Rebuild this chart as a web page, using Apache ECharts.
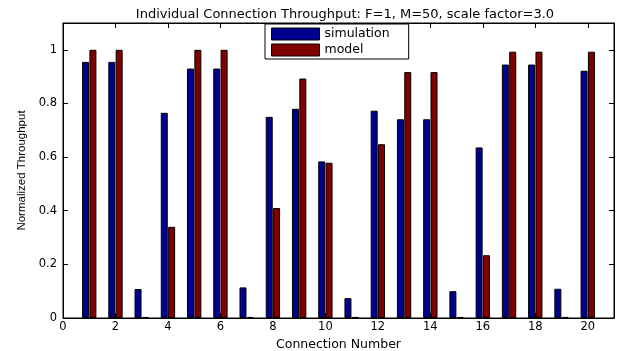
<!DOCTYPE html>
<html><head><meta charset="utf-8">
<script src="https://cdn.jsdelivr.net/npm/echarts@6/dist/echarts.min.js"></script>
<style>html,body{margin:0;padding:0;background:#fff}#c{width:623px;height:351px}</style>
</head><body><div id="c"></div>
<script>
var connections = [1,2,3,4,5,6,7,8,9,10,11,12,13,14,15,16,17,18,19,20];
var simulation = [0.955,0.955,0.108,0.765,0.930,0.930,0.114,0.750,0.780,0.584,0.074,0.773,0.741,0.741,0.100,0.636,0.945,0.945,0.109,0.922];
var model = [1.0,1.0,0.004,0.340,1.0,1.0,0.004,0.410,0.893,0.579,0.004,0.648,0.917,0.917,0.004,0.234,0.993,0.993,0.004,0.993];
var titleText = 'Individual Connection Throughput: F=1, M=50, scale factor=3.0';
var xName = 'Connection Number';
var yName = 'Normalized Throughput';
var seriesNames = ['simulation','model'];

var WIDE = 'DejaVu Sans, Verdana, sans-serif';
var NARROW = 'Liberation Sans, Arial, Helvetica, sans-serif';
function pairs(vals){ return connections.map(function(c,i){ return [c, vals[i]]; }); }
var chart = echarts.init(document.getElementById('c'), null, {renderer:'canvas'});
function axisLineStyle(){ return {show:true, onZero:false, lineStyle:{color:'#000', width:1}}; }
function tickStyle(){ return {show:true, inside:true, length:5, lineStyle:{color:'#000', width:1, opacity:1}}; }
chart.setOption({
  animation:false,
  backgroundColor:'#fff',
  title:{text:titleText, left:340, top:3, textAlign:'center',
    textStyle:{fontFamily:WIDE, fontSize:13, fontWeight:'normal', color:'#000'}},
  legend:{
    orient:'vertical', left:265, top:24,
    padding:[3,19,2,6], itemGap:2, itemWidth:48, itemHeight:12,
    backgroundColor:'#fff', borderColor:'#000', borderWidth:1,
    icon:'rect',
    textStyle:{fontFamily:WIDE, fontSize:12.5, lineHeight:14, color:'#000'},
    itemStyle:{borderColor:'#000', borderWidth:1},
    data:seriesNames
  },
  grid:{left:63, right:9, top:23, bottom:33, outerBoundsMode:'none', containLabel:false,
    show:true, borderColor:'#000', borderWidth:1, backgroundColor:'transparent'},
  xAxis:[{
    type:'value', gridIndex:0, min:0, max:21, interval:2, position:'bottom',
    name:xName, nameLocation:'middle', nameGap:19,
    nameTextStyle:{fontFamily:WIDE, fontSize:12.5, color:'#000'},
    axisLine:axisLineStyle(), splitLine:{show:false}, axisTick:tickStyle(),
    axisLabel:{fontFamily:WIDE, fontSize:11.5, color:'#000', margin:3, showMaxLabel:false}
  },{
    type:'value', gridIndex:0, min:0, max:21, interval:2, position:'top',
    axisLine:axisLineStyle(), splitLine:{show:false}, axisTick:tickStyle(),
    axisLabel:{show:false}
  }],
  yAxis:[{
    type:'value', gridIndex:0, min:0, max:1.1, interval:0.2, position:'left',
    name:yName, nameLocation:'middle', nameGap:26,
    nameTextStyle:{fontFamily:NARROW, fontSize:11.5, color:'#000'},
    axisLine:axisLineStyle(), splitLine:{show:false}, axisTick:tickStyle(),
    axisLabel:{fontFamily:WIDE, fontSize:11.5, color:'#000', margin:6, showMaxLabel:false}
  },{
    type:'value', gridIndex:0, min:0, max:1.1, interval:0.2, position:'right',
    axisLine:axisLineStyle(), splitLine:{show:false}, axisTick:tickStyle(),
    axisLabel:{show:false}
  }],
  series:[{
    name:seriesNames[0], type:'bar', xAxisIndex:0, yAxisIndex:0,
    data:pairs(simulation), barWidth:7, barGap:'5%',
    itemStyle:{color:'#00008F', borderColor:'#000', borderWidth:1}
  },{
    name:seriesNames[1], type:'bar', xAxisIndex:0, yAxisIndex:0,
    data:pairs(model), barWidth:7, barGap:'5%',
    itemStyle:{color:'#800000', borderColor:'#000', borderWidth:1}
  },{
    name:'frame', type:'scatter', xAxisIndex:1, yAxisIndex:1,
    data:pairs(simulation), symbolSize:0, silent:true,
    itemStyle:{opacity:0}, tooltip:{show:false}
  }]
});
</script></body></html>
